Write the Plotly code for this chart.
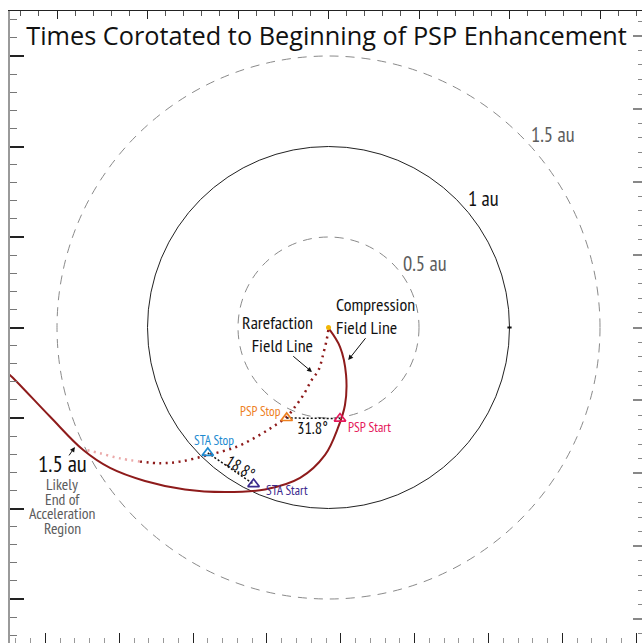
import plotly.graph_objects as go

# ---------------- data (au, Sun at origin) ----------------
orbit_radii = [0.5, 1.0, 1.5]
orbit_labels = ["0.5 au", "1 au", "1.5 au"]

comp_x = [0.003, 0.064, 0.097, 0.091, 0.052, -0.019, -0.157, -0.351, -0.572, -0.793,
          -1.014, -1.207, -1.355, -1.539, -1.750, -1.793]
comp_y = [-0.008, -0.108, -0.262, -0.428, -0.555, -0.704, -0.831, -0.895, -0.909, -0.895,
          -0.848, -0.776, -0.677, -0.492, -0.272, -0.234]

rare_x = [-0.001, -0.007, -0.014, -0.025, -0.055, -0.093, -0.139, -0.185, -0.231, -0.307, -0.397,
          -0.507, -0.664, -0.820, -0.931, -1.041]
rare_y = [-0.014, -0.051, -0.086, -0.130, -0.235, -0.290, -0.373, -0.438, -0.494, -0.548, -0.603,
          -0.659, -0.704, -0.741, -0.750, -0.741]
rare_fade_x = [-1.041, -1.152, -1.262, -1.336]
rare_fade_y = [-0.741, -0.723, -0.695, -0.677]

event_names = ["PSP Start", "PSP Stop", "STA Stop", "STA Start"]
event_x = [0.0635, -0.231, -0.667, -0.414]
event_y = [-0.503, -0.500, -0.693, -0.865]
event_colors = ["#E5175A", "#EE7F1E", "#1C8AD0", "#3B2A8E"]

sep_angles = ["31.8°", "18.8°"]

TITLE = "Times Corotated to Beginning of PSP Enhancement"

# ---------------- figure ----------------
XR = [-1.7597, 1.7320]
YR = [-1.7431, 1.7486]
RED = "#8E1B1B"
COND = "PT Sans Narrow"

fig = go.Figure()

for r in orbit_radii:
    solid = (r == 1.0)
    fig.add_shape(type="circle", xref="x", yref="y", x0=-r, x1=r, y0=-r, y1=r, layer="below",
                  line=dict(color="#222222" if solid else "#8a8a8a", width=1,
                            dash="solid" if solid else "9px,7px"))

# field lines
fig.add_trace(go.Scatter(x=rare_fade_x, y=rare_fade_y, mode="lines", line_shape="spline",
                         line=dict(color="#EBA9A9", width=2.5, dash="2px,4.5px"), hoverinfo="skip"))
fig.add_trace(go.Scatter(x=rare_x, y=rare_y, mode="lines", line_shape="spline",
                         line=dict(color=RED, width=2.5, dash="2px,4.5px"), hoverinfo="skip"))
fig.add_trace(go.Scatter(x=comp_x, y=comp_y, mode="lines", line_shape="spline",
                         line=dict(color=RED, width=2), hoverinfo="skip"))

# separation connectors
fig.add_trace(go.Scatter(x=[event_x[1], event_x[0]], y=[event_y[1], event_y[0]], mode="lines",
                         line=dict(color="#111111", width=1.5, dash="2px,2px"), hoverinfo="skip"))
fig.add_trace(go.Scatter(x=[event_x[2], event_x[3]], y=[event_y[2], event_y[3]], mode="lines",
                         line=dict(color="#111111", width=1.5, dash="2px,2px"), hoverinfo="skip"))

# Sun and 1 au mark
fig.add_trace(go.Scatter(x=[0], y=[0], mode="markers", marker=dict(color="#F2B705", size=5), hoverinfo="skip"))
fig.add_trace(go.Scatter(x=[orbit_radii[1]], y=[0], mode="markers",
                         marker=dict(color="#111111", size=3, symbol="line-ew-open", line=dict(width=2)),
                         hoverinfo="skip"))

# event triangles
fig.add_trace(go.Scatter(x=event_x, y=event_y, mode="markers", hoverinfo="skip",
                         marker=dict(symbol="triangle-up-open", size=10,
                                     color=event_colors, line=dict(color=event_colors, width=1.7))))

# dummy for secondary axes
fig.add_trace(go.Scatter(x=[0], y=[0], xaxis="x2", yaxis="y2", mode="markers",
                         marker=dict(opacity=0), hoverinfo="skip"))

ann = []
def A(x, y, text, size, color="#111111", family=COND, **kw):
    d = dict(x=x, y=y, xref="x", yref="y", text=text, showarrow=False,
             font=dict(size=size, color=color, family=family))
    d.update(kw)
    ann.append(d)

A(-0.011, 1.610, TITLE, 25.3, color="#111111", family="Source Sans 3")

# orbit labels
A(0.533, 0.351, orbit_labels[0], 20.5, color="#5c5c5c")
A(0.854, 0.715, orbit_labels[1], 20.5, color="#111111")
A(1.240, 1.069, orbit_labels[2], 20.5, color="#5c5c5c")

# field line labels
A(-0.0746, -0.036, "Rarefaction<br>Field Line", 18, xanchor="right", align="right")
A(0.030, 0.066, "Compression<br>Field Line", 18, xanchor="left", align="left")

for hx, hy, tx, ty in [(-0.091, -0.246, -0.203, -0.152), (0.109, -0.180, 0.211, -0.051),
                       (-1.401, -0.660, -1.439, -0.715)]:
    ann.append(dict(x=hx, y=hy, ax=tx, ay=ty, xref="x", yref="y", axref="x", ayref="y", text="",
                    showarrow=True, arrowhead=2, arrowsize=1, arrowwidth=1, arrowcolor="#111111"))

# 1.5 au acceleration region label
A(-1.467, -0.754, orbit_labels[2], 23, color="#111111")
for i, line in enumerate(["Likely", "End of", "Acceleration", "Region"]):
    A(-1.472, -0.864 - i * 0.0815, line, 15.7, color="#5c5c5c")

# event labels
A(0.224, -0.550, event_names[0], 13.5, color=event_colors[0])
A(-0.378, -0.464, event_names[1], 13.2, color=event_colors[1])
A(-0.633, -0.622, event_names[2], 13.2, color=event_colors[2])
A(-0.229, -0.903, event_names[3], 13.2, color=event_colors[3])

# angle labels
A(-0.091, -0.555, sep_angles[0], 16.5)
A(-0.489, -0.771, sep_angles[1], 16.5, textangle=32)

fig.update_layout(
    width=642, height=643, margin=dict(l=10, r=0, t=11, b=0, autoexpand=False),
    plot_bgcolor="white", paper_bgcolor="white", showlegend=False, annotations=ann,
    xaxis=dict(range=XR, showgrid=False, zeroline=False, showticklabels=False, showline=False,
               ticks="inside", tick0=0.068, dtick=0.408, ticklen=10, tickwidth=1, tickcolor="#222222",
               minor=dict(ticks="inside", tick0=0.068, dtick=0.0816, ticklen=5, tickwidth=1, tickcolor="#999999")),
    xaxis2=dict(range=XR, overlaying="x", side="top", anchor="y", showgrid=False, zeroline=False,
                showticklabels=False, showline=True, linecolor="#222222", linewidth=1,
                ticks="inside", tick0=0, dtick=0.5, ticklen=8, tickwidth=1, tickcolor="#222222",
                minor=dict(ticks="inside", tick0=0, dtick=0.1, ticklen=5, tickwidth=1, tickcolor="#555555")),
    yaxis=dict(range=YR, showgrid=False, zeroline=False, showticklabels=False, showline=True,
               linecolor="#9a9a9a", linewidth=2,
               ticks="inside", tick0=0, dtick=0.5, ticklen=14, tickwidth=1.5, tickcolor="#222222",
               minor=dict(ticks="inside", tick0=0, dtick=0.1, ticklen=7, tickwidth=1, tickcolor="#777777")),
    yaxis2=dict(range=YR, overlaying="y", side="right", anchor="x", showgrid=False, zeroline=False,
                showticklabels=False, showline=False,
                ticks="inside", tick0=0, dtick=0.403, ticklen=9, tickwidth=1.5, tickcolor="#888888",
                minor=dict(ticks="inside", tick0=0, dtick=0.0806, ticklen=4, tickwidth=1, tickcolor="#888888")),
)

fig.write_html("out.html", config={"displayModeBar": False},
               post_script="document.body.style.margin='0';document.body.style.overflow='hidden';")
